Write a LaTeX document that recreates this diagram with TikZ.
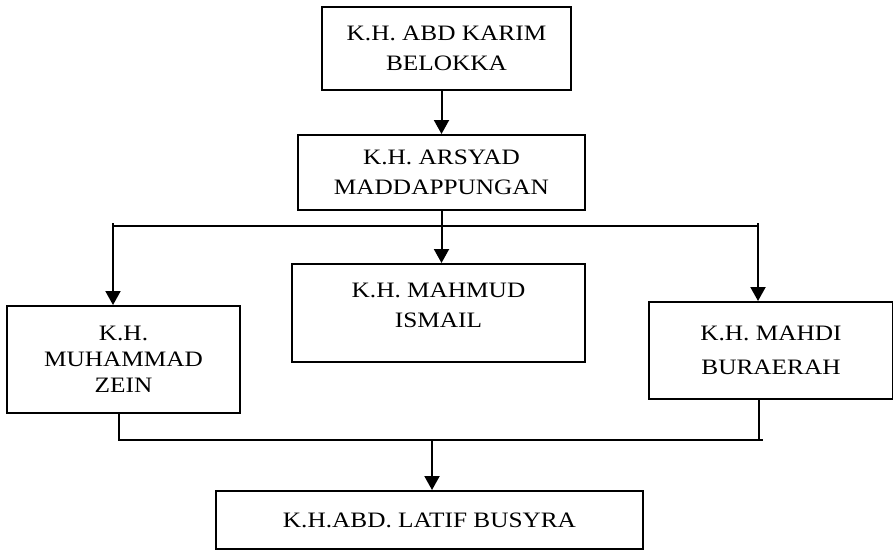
\documentclass[tikz,border=0pt]{standalone}
\usepackage{fontspec}
\setmainfont{Liberation Serif}[FakeStretch=1.15]
\usetikzlibrary{calc, arrows.meta}

\begin{document}
\begin{tikzpicture}[x=1pt, y=-1pt,
    box/.style={draw, line width=2pt, inner sep=0pt, align=center,
        font=\fontsize{22}{30}\selectfont},
    arr/.style={line width=2pt, -{Triangle[length=14pt,width=15pt]}}]
            \useasboundingbox (0,0) rectangle (893,550);
            \node[box, minimum width=249, minimum height=83] (karim) at (446.5,48.5) {K.H. ABD KARIM\\BELOKKA};
            \node[box, minimum width=287, minimum height=75] (arsyad) at (441.5,172.5) {K.H. ARSYAD\\MADDAPPUNGAN};
            \node[box, minimum width=233, minimum height=107, font=\fontsize{22}{26}\selectfont] (zein) at (123.5,359.5) {K.H.\\MUHAMMAD\\ZEIN};
            \node[box, minimum width=293, minimum height=98] (mahmud) at (438.5,313) {};
            \node[align=center, font=\fontsize{22}{30}\selectfont] (mahmudtxt) at ([yshift=7.5pt]mahmud.center) {K.H. MAHMUD\\ISMAIL};
            \node[box, minimum width=244, minimum height=97, font=\fontsize{22}{34}\selectfont] (mahdi) at (771,350.5) {K.H. MAHDI\\BURAERAH};
            \node[box, minimum width=427, minimum height=58] (latif) at (429.5,520) {K.H.ABD. LATIF BUSYRA};
            % cabang atas
            \coordinate (kiri) at (113,223);
            \coordinate (kanan) at (758,223);
            \draw[arr] (karim.south -| arsyad.north) -- (arsyad.north);
            \draw[line width=2pt] (kiri |- 0,226) -- (kanan |- 0,226);
            \draw[arr] (arsyad.south) -- (arsyad.south |- mahmud.north);
            \draw[arr] (kiri) -- (kiri |- zein.north);
            \draw[arr] (kanan) -- (kanan |- mahdi.north);
            % cabang bawah
            \coordinate (bkiri) at (119,440);
            \coordinate (bkanan) at (759,440);
            \coordinate (btengah) at (432,440);
            \draw[line width=2pt] (bkiri |- zein.south) -- (bkiri) -- (763,440);
            \draw[line width=2pt] (bkanan |- mahdi.south) -- (bkanan);
            \draw[arr] (btengah) -- (btengah |- latif.north);
        \end{tikzpicture}
\end{document}
